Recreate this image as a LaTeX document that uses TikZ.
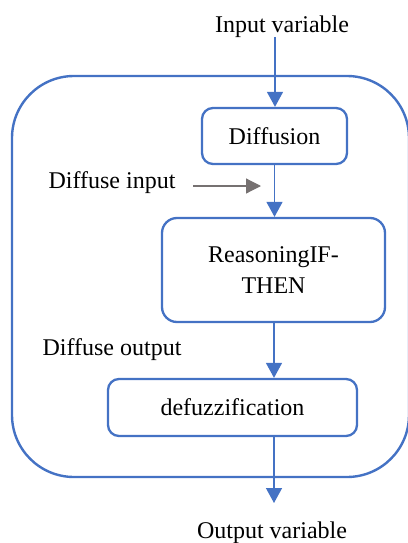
\documentclass[tikz,border=0pt]{standalone}
\usepackage{fontspec}
\setmainfont{Liberation Serif}
\usetikzlibrary{arrows.meta}
\definecolor{bl}{HTML}{4472C4}
\definecolor{gr}{HTML}{767171}
\begin{document}
\begin{tikzpicture}[x=1pt,y=-1pt,
  every node/.style={font=\fontsize{24}{31}\selectfont, inner sep=0pt},
  box/.style={draw=bl, line width=2.3pt, rounded corners=11pt, align=center},
  flow/.style={draw=bl, line width=1.4pt, -{Triangle[width=16pt,length=15pt]}},
  gflow/.style={draw=gr, line width=1.2pt, -{Triangle[width=15pt,length=15pt]}}]
\useasboundingbox (0,0) rectangle (407,543);
\draw[bl, line width=2.4pt, rounded corners=62pt] (12,76) rectangle (409,477);
\node (in) at (282,27) {Input variable};
\coordinate (inTop) at (275,37);
\node[box, minimum width=145pt, minimum height=56pt] (diff) at (274.5,136) {Diffusion};
\node[box, minimum width=223pt, minimum height=104pt, rounded corners=15pt] (reas) at (273.5,270) {ReasoningIF-\\THEN};
\node[box, minimum width=249pt, minimum height=57pt] (defz) at (232.5,407.5) {defuzzification};
\node (din) at (112,183) {Diffuse input};
\node (dout) at (112,350) {Diffuse output};
\node (out) at (272,533) {Output variable};
\coordinate (ga1) at (193,186);
\coordinate (ga2) at (261,186);
\coordinate (outEnd) at (274,503);
\draw[flow] (inTop) -- (inTop |- diff.north);
\draw[flow] (diff.south) -- (diff.south |- reas.north);
\draw[flow] (outEnd |- reas.south) -- (outEnd |- defz.north);
\draw[flow] (outEnd |- defz.south) -- (outEnd);
\draw[gflow] (ga1) -- (ga2);
\end{tikzpicture}
\end{document}
